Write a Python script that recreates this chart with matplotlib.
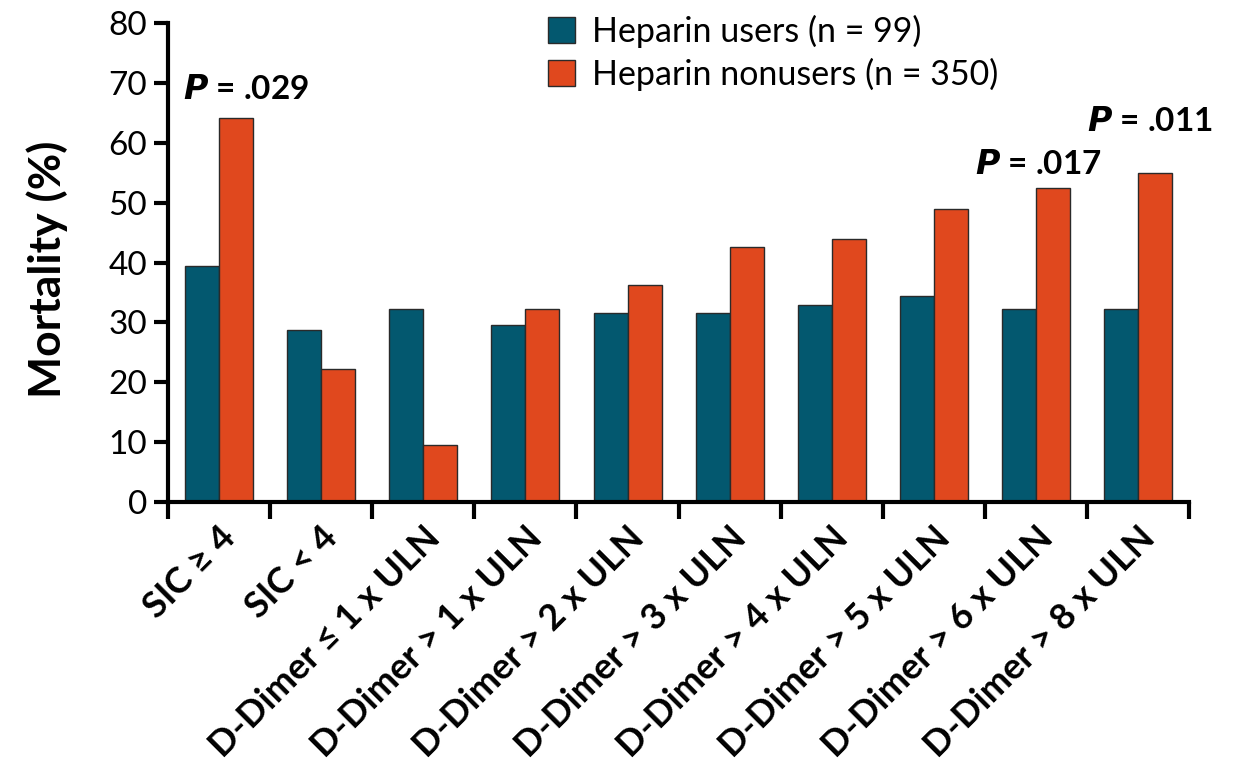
import matplotlib
matplotlib.use("Agg")
import matplotlib.pyplot as plt
import numpy as np
from matplotlib.patches import Patch

plt.rcParams['font.family'] = ['Lato', 'DejaVu Sans']

categories = ["SIC \u2265 4", "SIC < 4", "D-Dimer \u2264 1 x ULN", "D-Dimer > 1 x ULN",
              "D-Dimer > 2 x ULN", "D-Dimer > 3 x ULN", "D-Dimer > 4 x ULN",
              "D-Dimer > 5 x ULN", "D-Dimer > 6 x ULN", "D-Dimer > 8 x ULN"]
users = [39.5, 28.8, 32.2, 29.5, 31.6, 31.6, 33.0, 34.5, 32.3, 32.3]
nonusers = [64.2, 22.3, 9.5, 32.2, 36.2, 42.7, 44.0, 48.9, 52.5, 55.0]
series_labels = ["Heparin users (n = 99)", "Heparin nonusers (n = 350)"]
p_values = {0: ".029", 8: ".017", 9: ".011"}

c_users = "#03586F"
c_non = "#E0481E"

fig = plt.figure(figsize=(12.35, 7.83), dpi=100)
ax = fig.add_axes([0.136, 0.359, 0.827, 0.611])

x = np.arange(len(categories))
w = 1 / 3
ax.bar(x - w / 2, users, w, color=c_users, edgecolor="#2a2a2a", linewidth=1.0)
ax.bar(x + w / 2, nonusers, w, color=c_non, edgecolor="#2a2a2a", linewidth=1.0)

ax.set_xlim(-0.5, len(categories) - 0.5)
ax.set_ylim(0, 80)
ax.set_yticks(range(0, 81, 10))
ax.tick_params(axis="y", labelsize=24, length=10, width=3, pad=5)
ax.set_xticks(np.arange(-0.5, len(categories), 1.0))
ax.set_xticklabels([])
ax.tick_params(axis="x", length=12, width=3)
for lab_x, lab in zip(x, categories):
    ax.annotate(lab, xy=(lab_x, 0), xycoords=("data", "axes fraction"),
                xytext=(8, -22), textcoords="offset points",
                rotation=45, ha="right", va="center", rotation_mode="anchor",
                fontsize=26, fontweight="bold")

for s in ["top", "right"]:
    ax.spines[s].set_visible(False)
for s in ["left", "bottom"]:
    ax.spines[s].set_linewidth(3)

ax.set_ylabel("Mortality (%)", fontsize=32, fontweight="bold")
ax.yaxis.set_label_coords(-0.098, 0.486)

# significance annotations above selected groups
p_pos = {0: (0.27, 69.0), 8: (8.02, 56.4), 9: (9.11, 63.6)}
for i, pv in p_values.items():
    px, py = p_pos[i]
    ax.text(px, py, r"$\bfit{P}$" + " = " + pv, fontsize=24, fontweight="bold",
            ha="center", va="center")

handles = [Patch(facecolor=c_users, edgecolor="#2a2a2a"),
           Patch(facecolor=c_non, edgecolor="#2a2a2a")]
fig.legend(handles, series_labels, loc="upper left", bbox_to_anchor=(0.419, 1.02),
           frameon=False, fontsize=24.5, handlelength=0.8, handleheight=0.8,
           handletextpad=0.5, labelspacing=0.28)

fig.savefig("out.png", dpi=100)
